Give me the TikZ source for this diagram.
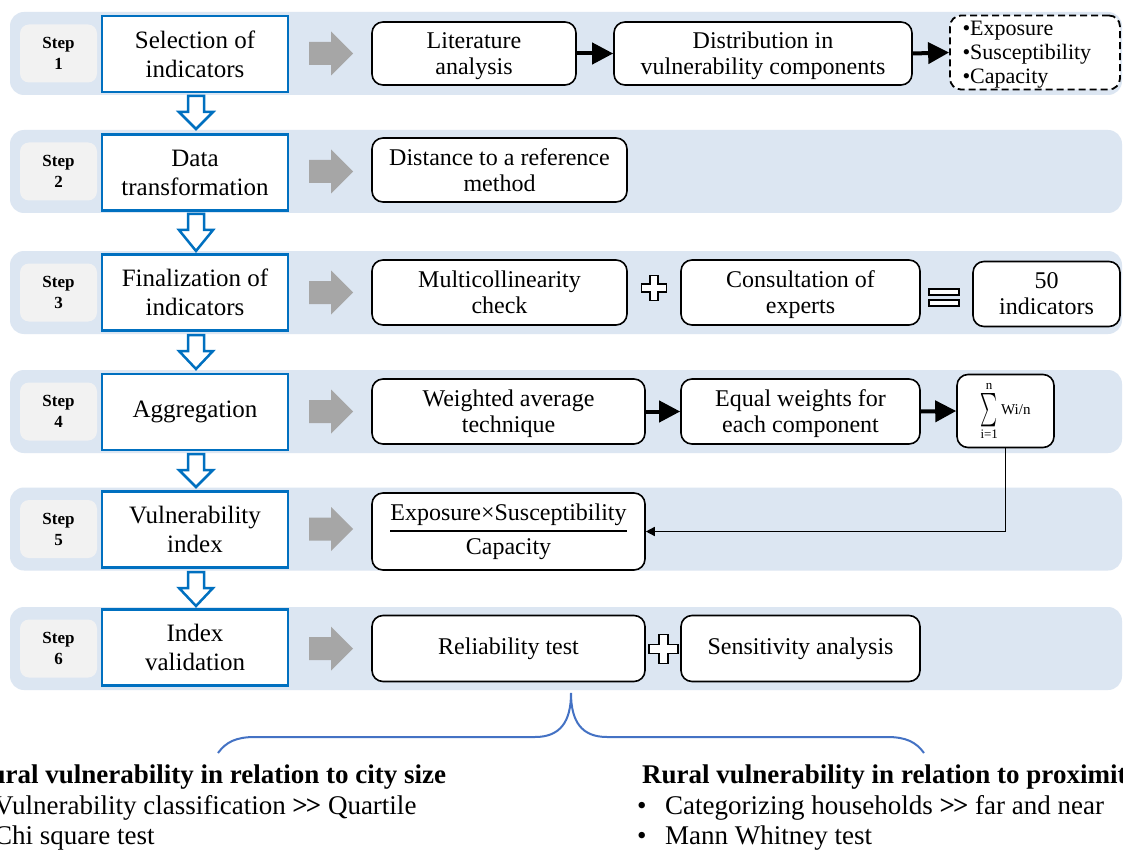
\documentclass[tikz,border=0pt]{standalone}
\usepackage{amsmath}
\usepackage{graphicx}
\usepackage{fontspec}
\setmainfont{Liberation Serif}
\usetikzlibrary{arrows.meta}
\definecolor{bandblue}{HTML}{DCE6F2}
\definecolor{stepgray}{HTML}{F2F2F2}
\definecolor{boxblue}{HTML}{0070C0}
\definecolor{arrgray}{HTML}{A6A6A6}
\definecolor{bracecol}{HTML}{4472C4}
\tikzset{
  band/.style={fill=bandblue, rounded corners=14pt},
  stepbox/.style={fill=stepgray, rounded corners=9pt, minimum width=77pt, minimum height=58pt,
    inner sep=0pt, align=center, font=\fontsize{17}{21}\selectfont\bfseries},
  titlebox/.style={draw=boxblue, line width=2.5pt, fill=white, minimum width=186pt,
    minimum height=76pt, align=center, font=\fontsize{25}{29}\selectfont, inner sep=0pt},
  wbox/.style={draw=black, line width=1.6pt, fill=white, rounded corners=11pt, align=center,
    font=\fontsize{24}{26}\selectfont, inner sep=0pt},
  dbox/.style={draw=black, line width=1.8pt, dash pattern=on 7pt off 4pt, fill=white,
    rounded corners=11pt, align=left, text width=145pt, inner xsep=12.5pt, inner ysep=0pt,
    font=\fontsize{22}{24}\selectfont},
  blackarrow/.style={line width=4pt, -{Triangle[length=21pt,width=21pt]}},
  thinarrow/.style={line width=1.5pt, -{Triangle[length=9pt,width=9pt]}},
  greyarr/.style={fill=arrgray},
  bluearr/.style={draw=boxblue, line width=2.5pt, fill=white, line join=miter},
  opsym/.style={draw=black, line width=1.4pt, fill=white},
  brace/.style={draw=bracecol, line width=2pt},
  bottxt/.style={anchor=base west, inner sep=0pt, font=\fontsize{27}{30}\selectfont},
}
\newcommand\limtxt[1]{\mbox{\fontsize{13}{13}\selectfont #1}}
\begin{document}
\begin{tikzpicture}[x=1pt,y=-1pt]
\useasboundingbox (0,0) rectangle (1123,850);
\clip (0,0) rectangle (1123,850);
\fill[white] (0,0) rectangle (1123,850);

% bands, step labels, grey arrows
\foreach \i/\c in {1/53.5,2/171.5,3/292.5,4/411.5,5/529,6/648.5}{
  \fill[band] (10,\c-41.5) rectangle (1122,\c+41.5);
  \node[stepbox] (s\i) at (58.5,\c) {Step\\\i};
  \fill[greyarr] (309,\c-11.5) -- (331,\c-11.5) -- (331,\c-22) -- (353,\c) -- (331,\c+22)
    -- (331,\c+11.5) -- (309,\c+11.5) -- cycle;
}

% blue down arrows
\foreach \a/\b in {96/129,214/251,335/369,454/487,572/606}{
  \draw[bluearr] (188,\a) -- (204,\a) -- (204,\a+16) -- (213,\a+16) -- (196,\b)
    -- (179,\a+16) -- (188,\a+16) -- cycle;
}

% title boxes
\node[titlebox] (t1) at (195,54) {Selection of\\indicators};
\node[titlebox] (t2) at (195,172.5) {Data\\transformation};
\node[titlebox] (t3) at (195,292.5) {Finalization of\\indicators};
\node[titlebox] (t4) at (195,412) {Aggregation};
\node[titlebox] (t5) at (195,529.5) {Vulnerability\\index};
\node[titlebox] (t6) at (195,647.5) {Index\\validation};

% row 1
\node[wbox, minimum width=204pt, minimum height=63pt] (lit) at (474,53.5) {Literature\\\smash[b]{analysis}};
\node[wbox, minimum width=298pt, minimum height=63pt] (dist) at (763,53.5) {Distribution in\\\smash[b]{vulnerability components}};
\node[dbox, minimum height=74pt] (comp) at (1035,52.5) {•Exposure\\•Susceptibility\\\smash[b]{•Capacity}};
\draw[blackarrow] (lit.east) -- (dist.west);
\draw[blackarrow] (dist.east) -- (comp.west);

% row 2
\node[wbox, minimum width=255pt, minimum height=64pt] (ref) at (499.5,170) {Distance to a reference\\method};

% row 3
\node[wbox, minimum width=255pt, minimum height=65pt] (multi) at (499.5,292.5) {Multicollinearity\\check};
\node[wbox, minimum width=239pt, minimum height=65pt] (cons) at (800.5,292.5) {Consultation of\\\smash[b]{experts}};
\node[wbox, minimum width=147pt, minimum height=65pt] (fifty) at (1046.5,294) {50\\indicators};
\draw[opsym] (650,275.5) -- (658,275.5) -- (658,284) -- (666.5,284) -- (666.5,292) -- (658,292)
  -- (658,300.5) -- (650,300.5) -- (650,292) -- (641.5,292) -- (641.5,284) -- (650,284) -- cycle;
\draw[opsym] (929,289) rectangle (959,295);
\draw[opsym] (929,300) rectangle (959,306);

% row 4
\node[wbox, minimum width=273pt, minimum height=65pt] (wavg) at (508.5,411.5) {Weighted average\\\smash[b]{technique}};
\node[wbox, minimum width=239pt, minimum height=65pt] (eqw) at (800.5,411.5) {Equal weights for\\\smash[b]{each component}};
\node[wbox, minimum width=97pt, minimum height=73pt] (sum) at (1005.5,411)
  {\fontsize{19}{19}\selectfont$\mathop{\vcenter{\hbox{\resizebox{17pt}{25pt}{$\sum$}}}}\limits_{\limtxt{i=1}}^{\limtxt{n}}$\,{\fontsize{15}{15}\selectfont Wi/n}};
\draw[blackarrow] (wavg.east) -- (eqw.west);
\draw[blackarrow] (eqw.east) -- (sum.west);

% row 5
\node[wbox, minimum width=273pt, minimum height=77pt] (frac) at (508.5,531.5)
  {$\genfrac{}{}{1.6pt}{0}{\mbox{Exposure×Susceptibility}}{\mbox{Capacity}}$};
\draw[thinarrow] (sum.south) |- (frac.east);

% row 6
\node[wbox, minimum width=273pt, minimum height=66pt] (rel) at (508.5,648.5) {Reliability test};
\node[wbox, minimum width=239pt, minimum height=66pt] (sens) at (800.5,648.5) {Sensitivity analysis};
\draw[opsym] (659,634.5) -- (668,634.5) -- (668,644.5) -- (678,644.5) -- (678,653.5) -- (668,653.5)
  -- (668,663.5) -- (659,663.5) -- (659,653.5) -- (649,653.5) -- (649,644.5) -- (659,644.5) -- cycle;

% brace
\coordinate (bL) at (218,753);
\coordinate (bT) at (571,693);
\coordinate (bR) at (924,753);
\draw[brace] (bL) .. controls (226,742) and (236,737) .. (255,737) -- (535,737)
  .. controls (560,737) and (571,722) .. (bT)
  .. controls (571,722) and (582,737) .. (607,737) -- (887,737)
  .. controls (906,737) and (916,742) .. (bR);

% bottom texts
\node[bottxt, font=\fontsize{27}{30}\selectfont\bfseries] (lt) at (-29,783) {Rural vulnerability in relation to city size};
\node[bottxt] (l1) at (-34,814) {\makebox[28pt][l]{•}Vulnerability classification \textbf{>\kern-2pt>} Quartile};
\node[bottxt] (l2) at (-34,844) {\makebox[28pt][l]{•}Chi square test};
\node[bottxt, font=\fontsize{27}{30}\selectfont\bfseries] (rt) at (642,783) {Rural vulnerability in relation to proximity};
\node[bottxt] (r1) at (637,814) {\makebox[28pt][l]{•}Categorizing households \textbf{>\kern-2pt>} far and near};
\node[bottxt] (r2) at (637,844) {\makebox[28pt][l]{•}Mann Whitney test};
\end{tikzpicture}
\end{document}
